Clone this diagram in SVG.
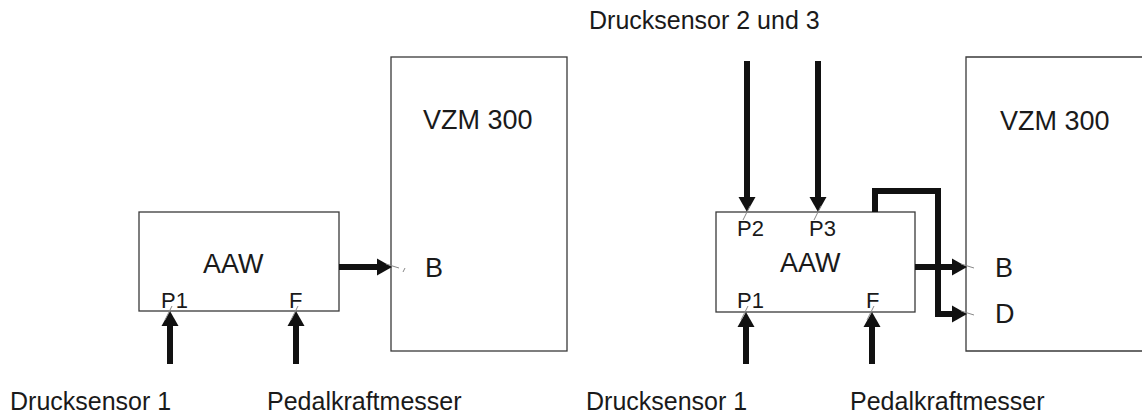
<svg xmlns="http://www.w3.org/2000/svg" width="1142" height="414" viewBox="0 0 1142 414">
<style>
.box{fill:none;stroke:#3a3a3a;stroke-width:1.3}
.lbl{font-family:"Liberation Sans",Arial,sans-serif;fill:#1a1a1a;font-size:25px}
.big{font-family:"Liberation Sans",Arial,sans-serif;fill:#1a1a1a;font-size:27px}
.port{font-family:"Liberation Sans",Arial,sans-serif;fill:#1a1a1a;font-size:22px}
.wire{fill:none;stroke:#111;stroke-width:6}
.head{fill:#111}
.tick{stroke:#888;stroke-width:1;fill:none}
</style>
<rect width="1142" height="414" fill="#fff"/>

<g id="aaw-left">
<rect class="box" x="139" y="212" width="200" height="99"/>
<text class="big" x="203" y="273">AAW</text>
<text class="port" x="161" y="308">P1</text>
<text class="port" x="289" y="308">F</text>
</g>
<g id="vzm-left">
<rect class="box" x="391" y="57" width="176" height="294"/>
<text class="big" x="423" y="129">VZM 300</text>
<text class="big" x="425" y="277">B</text>
</g>
<g id="aaw-right">
<rect class="box" x="716" y="212" width="199" height="100"/>
<text class="big" x="780" y="272">AAW</text>
<text class="port" x="737" y="236">P2</text>
<text class="port" x="809" y="236">P3</text>
<text class="port" x="737" y="308">P1</text>
<text class="port" x="866" y="308">F</text>
</g>
<g id="vzm-right">
<path class="box" d="M1142,57 H966 V351 H1142"/>
<text class="big" x="1000" y="130">VZM 300</text>
<text class="big" x="995" y="277">B</text>
<text class="big" x="995" y="323">D</text>
</g>
<g id="labels">
<text class="lbl" x="10" y="410">Drucksensor 1</text>
<text class="lbl" x="267" y="410">Pedalkraftmesser</text>
<text class="lbl" x="586" y="410">Drucksensor 1</text>
<text class="lbl" x="850" y="410">Pedalkraftmesser</text>
<text class="lbl" x="589" y="29">Drucksensor 2 und 3</text>
</g>

<g id="connectors">
<line class="wire" x1="170" y1="364" x2="170" y2="323"/>
<polygon class="head" points="170,311 161.5,326 178.5,326"/>
<line class="wire" x1="296" y1="364" x2="296" y2="323"/>
<polygon class="head" points="296,311 287.5,326 304.5,326"/>
<line class="wire" x1="339" y1="267" x2="380" y2="267"/>
<polygon class="head" points="392,267 377,258.5 377,275.5"/>
<line class="wire" x1="747" y1="61" x2="747" y2="200"/>
<polygon class="head" points="747,212 738.5,197 755.5,197"/>
<line class="wire" x1="818" y1="61" x2="818" y2="200"/>
<polygon class="head" points="818,212 809.5,197 826.5,197"/>
<line class="wire" x1="746" y1="364" x2="746" y2="324"/>
<polygon class="head" points="746,312 737.5,327 754.5,327"/>
<line class="wire" x1="872" y1="364" x2="872" y2="324"/>
<polygon class="head" points="872,312 863.5,327 880.5,327"/>
<line class="wire" x1="915" y1="267" x2="955" y2="267"/>
<polygon class="head" points="967,267 952,258.5 952,275.5"/>
<path class="wire" d="M875,212 V191 H938 V314 H955"/>
<polygon class="head" points="967,314 952,305.5 952,322.5"/>
<g id="ticks">
<line class="tick" x1="165" y1="320" x2="172" y2="306"/>
<line class="tick" x1="291" y1="320" x2="298" y2="306"/>
<line class="tick" x1="386" y1="264" x2="399" y2="268"/>
<line class="tick" x1="403" y1="272" x2="405" y2="268"/>
<line class="tick" x1="743" y1="220" x2="750" y2="206"/>
<line class="tick" x1="814" y1="220" x2="821" y2="206"/>
<line class="tick" x1="741" y1="320" x2="748" y2="306"/>
<line class="tick" x1="867" y1="320" x2="874" y2="306"/>
<line class="tick" x1="961" y1="264" x2="974" y2="268"/>
<line class="tick" x1="961" y1="311" x2="974" y2="315"/>
</g>
</g>
</svg>
